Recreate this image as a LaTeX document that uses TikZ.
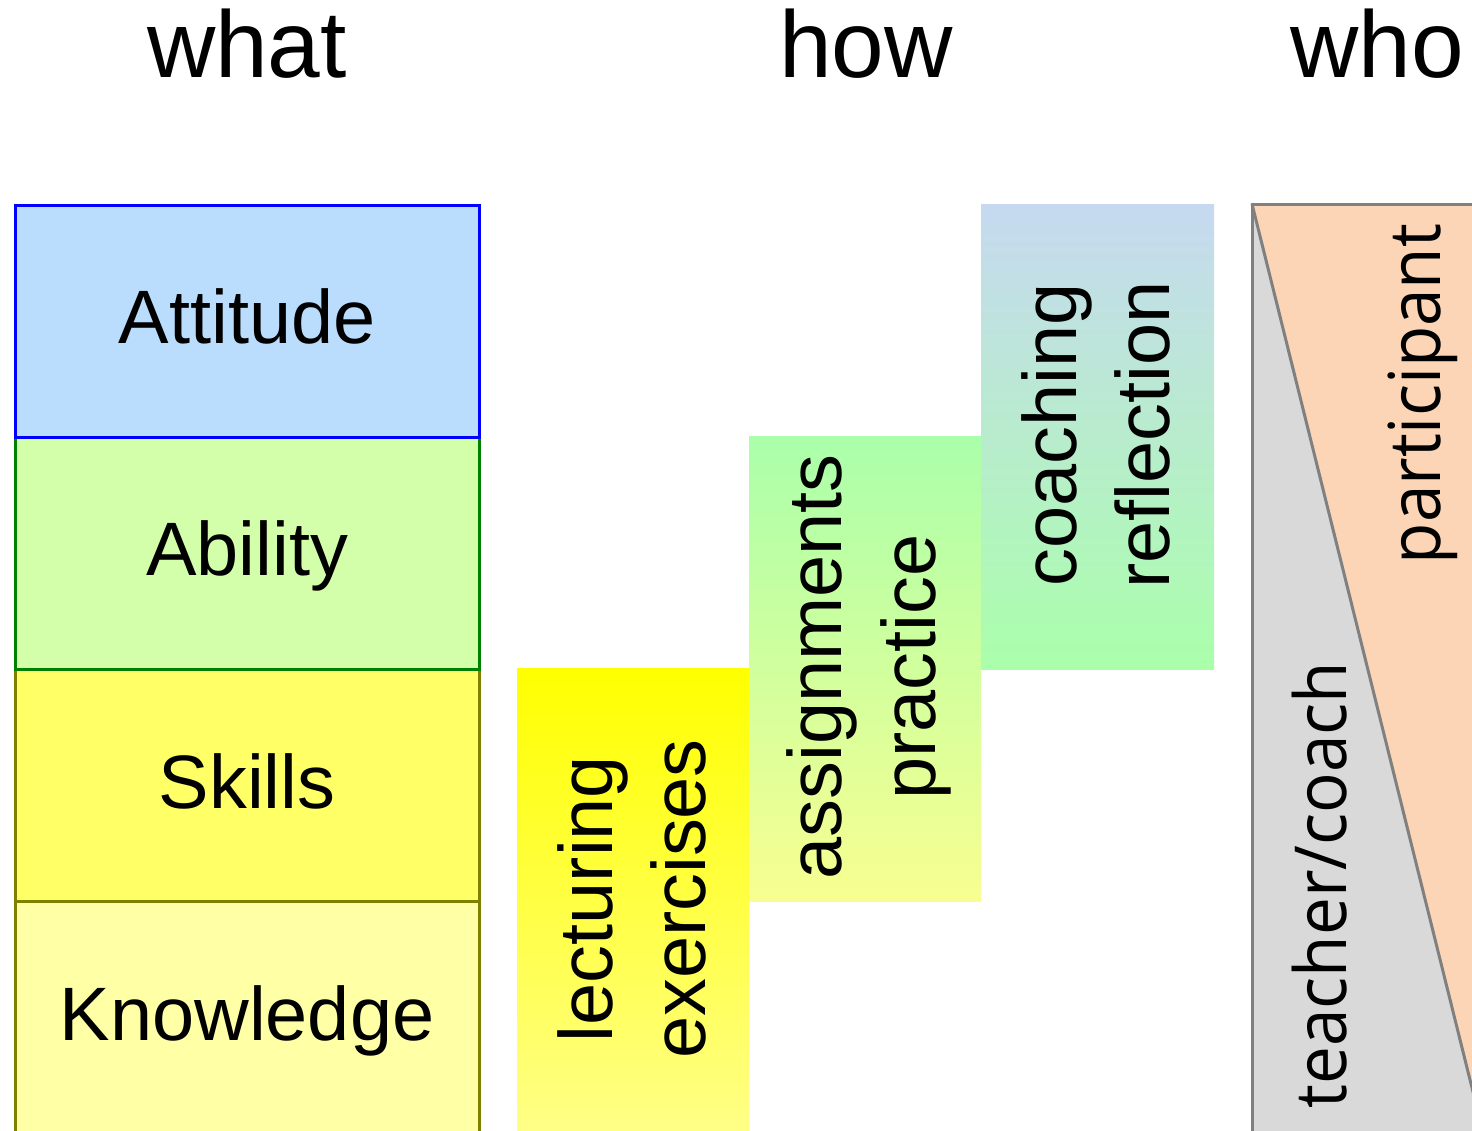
\documentclass[tikz,border=0pt]{standalone}
\usepackage{fontspec}
\setmainfont{Liberation Sans}
\newfontfamily\whofont{Open Sans}
\definecolor{attfill}{HTML}{BBDDFD}
\definecolor{ablfill}{HTML}{D4FFAA}
\definecolor{sklfill}{HTML}{FFFF66}
\definecolor{knwfill}{HTML}{FFFFA6}
\definecolor{attline}{HTML}{0000FF}
\definecolor{ablline}{HTML}{008000}
\definecolor{sklline}{HTML}{808000}
\definecolor{lecttop}{HTML}{FFFF00}
\definecolor{lectbot}{HTML}{FFFF88}
\definecolor{asgtop}{HTML}{AAFFAA}
\definecolor{asgbot}{HTML}{F8FF90}
\definecolor{coatop}{HTML}{C6D9F0}
\definecolor{coabot}{HTML}{AAFFAA}
\definecolor{peach}{HTML}{FBD5B5}
\definecolor{lightgray}{HTML}{D9D9D9}
\definecolor{edgegray}{HTML}{808080}
\begin{document}
\begin{tikzpicture}[x=1bp,y=-1bp,
  head/.style={font=\fontsize{95}{110}\selectfont, inner sep=0pt, anchor=base},
  lbl/.style={font=\fontsize{76}{94}\selectfont, inner sep=0pt, anchor=base},
  level/.style={draw, line width=3bp, minimum width=464bp, minimum height=232bp, inner sep=0pt, outer sep=0pt, anchor=north west},
  method/.style={minimum width=232bp, inner sep=0pt, outer sep=0pt, anchor=north west, draw=none},
  rot/.style={rotate=90, align=center, inner sep=0pt, font=\fontsize{76}{94}\selectfont},
  whotxt/.style={rotate=90, inner sep=0pt, anchor=base, font=\whofont\fontsize{72}{80}\selectfont},
  whoedge/.style={draw=edgegray, line width=3bp, line join=miter}
]
\clip (0,0) rectangle (1472,1130);
% headers
\node[head] (hWhat) at (247,77) {what};
\node[head] (hHow) at (866,77) {how};
\node[head] (hWho) at (1377,77) {who};
% what column
\node[level, fill=knwfill, draw=sklline] (bKnow) at (15,901) {};
\node[level, fill=sklfill, draw=sklline] (bSkill) at (15,669) {};
\node[level, fill=ablfill, draw=ablline] (bAbil) at (15,437) {};
\node[level, fill=attfill, draw=attline] (bAtt) at (15,205) {};
\node[lbl] (tAtt) at (247,343) {Attitude};
\node[lbl] (tAbil) at (247,575) {Ability};
\node[lbl] (tSkill) at (247,808) {Skills};
\node[lbl] (tKnow) at (247,1040) {Knowledge};
% how column
\node[method, minimum height=470bp, top color=lecttop, bottom color=lectbot] (bLect) at (517,668) {};
\node[method, minimum height=465bp, top color=asgtop, bottom color=asgbot] (bAsg) at (749,436) {};
\node[method, minimum width=233bp, minimum height=465bp, top color=coatop, bottom color=coabot] (bCoach) at (981,204) {};
\node[rot] (tLect) at (632,899) {lecturing\\exercises};
\node[rot] (tAsg) at (869,667) {assignments\\practice};
\node[rot] (tCoach) at (1096,435) {coaching\\reflection};
% who column
\fill[peach] (1252,204) -- (1480,204) -- (1480,1120) -- cycle;
\fill[lightgray] (1252,204) -- (1480,1120) -- (1480,1140) -- (1252,1140) -- cycle;
\draw[whoedge] (1252,1140) -- (1252,204) -- (1480,204);
\draw[whoedge] (1252,204) -- (1480,1120);
\node[whotxt] (tPart) at (1440,394) {\scalebox{0.94}[1]{participant}};
\node[whotxt] (tTeach) at (1346,885) {\scalebox{0.94}[1]{teacher/coach}};
\end{tikzpicture}
\end{document}
